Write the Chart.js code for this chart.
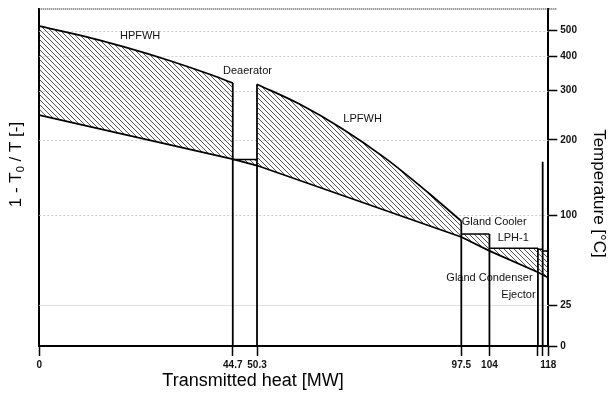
<!DOCTYPE html>
<html>
<head>
<meta charset="utf-8">
<script src="https://cdn.jsdelivr.net/npm/chart.js@4.4.1/dist/chart.umd.min.js"></script>
<style>
  html, body { margin: 0; padding: 0; background: #fff; }
  canvas { display: block; }
</style>
</head>
<body>
<canvas id="chart" width="608" height="397"></canvas>
<script>
// Reference temperature for the exergy factor 1 - T0/T (K)
const T0 = 273.15;

// Hot side: high-pressure feedwater heaters (heat in MW, temperature in °C)
const hpHeat = [0, 10, 20, 30, 40, 44.7];
const hpTemp = [520.7, 476.8, 431.2, 385.7, 340.8, 319.6];

// Hot side: low-pressure feedwater heaters
const lpHeat = [50.3, 60, 70, 80, 90, 97.5];
const lpTemp = [316.3, 269.4, 219.5, 170.7, 124.6, 94.0];

// Cold side: feedwater being heated
const fwHeat = [0, 44.7, 50.3, 97.5, 104, 115.2, 117.6];
const fwTemp = [245.7, 169.6, 160.4, 78.7, 66.2, 48.7, 44.5];

// Condensing stages: heat range and constant hot-side temperature
const stageFrom = [44.7, 97.5, 104, 115.2, 116.3];
const stageTo   = [50.3, 104, 115.2, 116.3, 117.6];
const stageTemp = [169.0, 81.5, 68.4, 67.5, 66.0];

// Vertical dividers between the heaters
const dividerHeat = [44.7, 50.3, 97.5, 104, 115.2, 116.3];
const dividerTemp = [319.6, 316.3, 94.0, 81.5, 68.4, 166.0];

// Axis ticks
const heatTicks = [0, 44.7, 50.3, 97.5, 104, 115.2, 116.3, 117.6];
const heatTickLabels = ['0', '44.7', '50.3', '97.5', '104', '', '', '118'];
const tempTicks = [0, 25, 100, 200, 300, 400, 500];

// Heater names
const labelText = ['HPFWH', 'Deaerator', 'LPFWH', 'Gland Cooler', 'LPH-1', 'Gland Condenser', 'Ejector'];

// Where each name is placed (heat, temperature)
const labelHeat = [23.3, 48.1, 74.7, 105.1, 109.5, 104.0, 110.7];
const labelTemp = [478, 352, 238, 93.5, 77.7, 44.5, 31.6];

const FONT = '"Liberation Sans", Arial, Helvetica, sans-serif';
const exergy = t => 1 - T0 / (t + T0);
const pts = (hs, ts) => hs.map((h, i) => ({ x: h, y: exergy(ts[i]) }));

const canvas = document.getElementById('chart');
const ctx = canvas.getContext('2d');

function hatchPattern() {
  const s = 5;
  const c = document.createElement('canvas');
  c.width = s; c.height = s;
  const g = c.getContext('2d');
  g.strokeStyle = '#333';
  g.lineWidth = 0.85;
  g.beginPath();
  g.moveTo(-1, -1); g.lineTo(s + 1, s + 1);
  g.moveTo(-1, s - 1); g.lineTo(1, s + 1);
  g.moveTo(s - 1, -1); g.lineTo(s + 1, 1);
  g.stroke();
  return ctx.createPattern(c, 'repeat');
}
const hatch = hatchPattern();

const lineBase = { pointRadius: 0, borderColor: '#000', borderWidth: 1.7, tension: 0, yAxisID: 'y', xAxisID: 'x' };
const curve = { cubicInterpolationMode: 'monotone' };

const datasets = [];
// 0: feedwater line
datasets.push(Object.assign({}, lineBase, { label: 'Feedwater', data: pts(fwHeat, fwTemp), fill: false }));
// heater trains, hatched down to the feedwater line
datasets.push(Object.assign({}, lineBase, curve, { label: 'HPFWH', data: pts(hpHeat, hpTemp), fill: { target: 0 }, backgroundColor: hatch }));
datasets.push(Object.assign({}, lineBase, curve, { label: 'LPFWH', data: pts(lpHeat, lpTemp), fill: { target: 0 }, backgroundColor: hatch }));
stageFrom.forEach((a, i) => {
  datasets.push(Object.assign({}, lineBase, {
    label: labelText[i],
    data: pts([a, stageTo[i]], [stageTemp[i], stageTemp[i]]),
    borderWidth: 1.5,
    fill: { target: 0 },
    backgroundColor: hatch
  }));
});
// dividers from the axis up to the hot side
dividerHeat.forEach((h, i) => {
  datasets.push(Object.assign({}, lineBase, {
    label: 'div' + i,
    data: [{ x: h, y: 0 }, { x: h, y: exergy(dividerTemp[i]) }],
    borderWidth: 1.8,
    fill: false
  }));
});

const decor = {
  id: 'decor',
  beforeDatasetsDraw(chart) {
    const { ctx, chartArea: a, scales } = chart;
    const y = scales.y;
    ctx.save();
    // temperature grid
    tempTicks.forEach(t => {
      if (t === 0) return;
      const py = Math.round(y.getPixelForValue(exergy(t))) + 0.5;
      ctx.beginPath();
      ctx.lineWidth = 1;
      if (t === 25) { ctx.setLineDash([]); ctx.strokeStyle = '#e2e2e2'; }
      else { ctx.setLineDash([2, 2]); ctx.strokeStyle = '#cfcfcf'; }
      ctx.moveTo(a.left, py); ctx.lineTo(a.right, py);
      ctx.stroke();
    });
    // top frame
    ctx.setLineDash([1, 1]);
    ctx.strokeStyle = '#444';
    ctx.lineWidth = 1.5;
    ctx.beginPath();
    ctx.moveTo(a.left, a.top); ctx.lineTo(a.right + 9, a.top);
    ctx.stroke();
    ctx.setLineDash([]);
    // heater names
    ctx.fillStyle = '#111';
    ctx.font = '11px ' + FONT;
    ctx.textAlign = 'center';
    ctx.textBaseline = 'middle';
    labelText.forEach((s, i) => {
      ctx.fillText(s, scales.x.getPixelForValue(labelHeat[i]), y.getPixelForValue(exergy(labelTemp[i])));
    });
    ctx.restore();
  },
  afterDraw(chart) {
    const { ctx } = chart;
    ctx.save();
    ctx.fillStyle = '#000';
    ctx.textBaseline = 'middle';
    // x title
    ctx.font = '18px ' + FONT;
    ctx.textAlign = 'center';
    ctx.fillText('Transmitted heat [MW]', 253, 381.5);
    // right title
    ctx.save();
    ctx.translate(599, 193.5);
    ctx.rotate(Math.PI / 2);
    ctx.font = '17px ' + FONT;
    ctx.fillText('Temperature [°C]', 0, 0);
    ctx.restore();
    // left title with subscript
    ctx.save();
    ctx.translate(16, 164.5);
    ctx.rotate(-Math.PI / 2);
    const big = '17px ' + FONT, small = '11px ' + FONT;
    const parts = [['1 - T', big, 0], ['0', small, 5], [' / T [-]', big, 0]];
    let total = 0;
    parts.forEach(p => { ctx.font = p[1]; total += ctx.measureText(p[0]).width; });
    let cx = -total / 2;
    ctx.textAlign = 'left';
    parts.forEach(p => {
      ctx.font = p[1];
      ctx.fillText(p[0], cx, p[2]);
      cx += ctx.measureText(p[0]).width;
    });
    ctx.restore();
    ctx.restore();
  }
};

const tickFont = { family: FONT, size: 10, weight: 'bold' };

new Chart(ctx, {
  type: 'line',
  data: { datasets },
  plugins: [decor],
  options: {
    responsive: false,
    animation: false,
    devicePixelRatio: 1,
    layout: { padding: { top: 6, left: 0, right: 0, bottom: 0 } },
    plugins: { legend: { display: false }, tooltip: { enabled: false } },
    scales: {
      x: {
        type: 'linear', position: 'bottom', min: 0, max: 117.6,
        afterFit: s => { s.height = 51; },
        afterBuildTicks: s => { s.ticks = heatTicks.map(v => ({ value: v })); },
        ticks: {
          autoSkip: false, maxRotation: 0, minRotation: 0, padding: 3,
          color: '#111', font: tickFont,
          callback: (v, i) => heatTickLabels[i]
        },
        grid: { drawOnChartArea: false, drawTicks: true, tickLength: 10, tickColor: '#000', tickWidth: 1.5 },
        border: { color: '#000', width: 2 }
      },
      y: {
        type: 'linear', position: 'left', min: 0, max: 0.691,
        afterFit: s => { s.width = 39.3; },
        ticks: { display: false },
        grid: { display: false },
        border: { color: '#000', width: 2 }
      },
      y2: {
        type: 'linear', position: 'right', min: 0, max: 0.691,
        afterFit: s => { s.width = 59.7; },
        afterBuildTicks: s => { s.ticks = tempTicks.map(t => ({ value: exergy(t) })); },
        ticks: {
          padding: 3, color: '#111', font: tickFont,
          callback: (v, i) => String(tempTicks[i])
        },
        grid: { drawOnChartArea: false, drawTicks: true, tickLength: 9, tickColor: '#000', tickWidth: 1.5 },
        border: { color: '#000', width: 2 }
      }
    }
  }
});
</script>
</body>
</html>
